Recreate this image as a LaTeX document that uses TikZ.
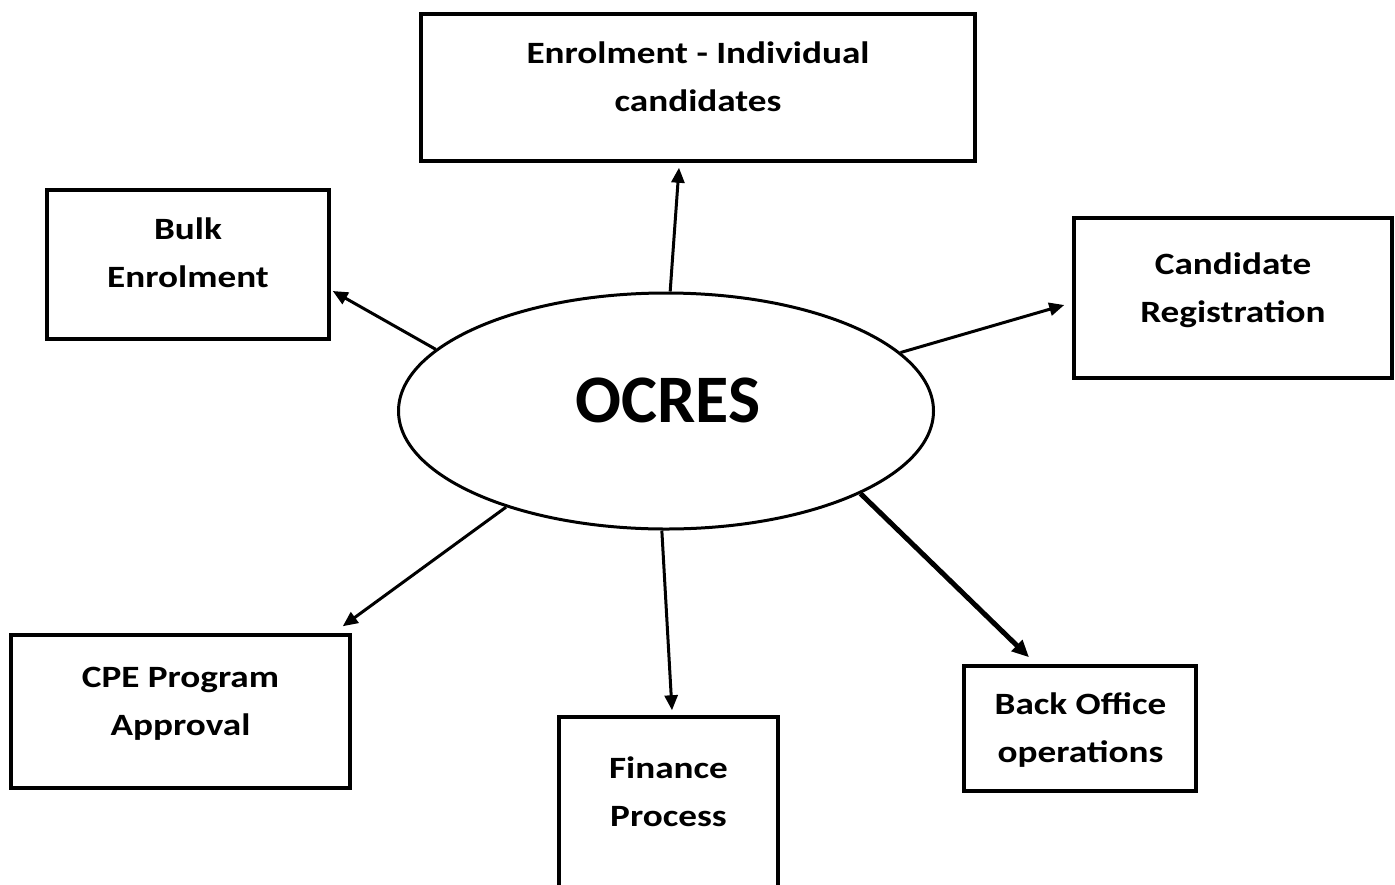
\documentclass[tikz,border=0pt]{standalone}
\usepackage{fontspec}
\setmainfont{Carlito}
\newfontfamily\boxfont[FakeStretch=1.2]{Carlito}
\usetikzlibrary{arrows.meta,shapes.geometric}
\begin{document}
\begin{tikzpicture}[x=1pt,y=-1pt,
  box/.style={draw, line width=3.5pt, rectangle, inner sep=0pt},
  lbl/.style={font=\boxfont\bfseries\fontsize{31}{48}\selectfont, align=center, inner sep=0pt},
  conn/.style={line width=3pt, -{Triangle[length=15pt,width=13pt]}},
  thickconn/.style={line width=5pt, -{Triangle[length=17pt,width=15pt]}}
]
\useasboundingbox (0,0) rectangle (1395,884);
\clip (0,0) rectangle (1395,884);
% boxes
\node[box, minimum width=554pt, minimum height=147pt] (enrol) at (698,87.5) {};
\node[box, minimum width=282pt, minimum height=149pt] (bulk) at (188,264.5) {};
\node[box, minimum width=318pt, minimum height=160pt] (cand) at (1233,298) {};
\node[box, minimum width=339pt, minimum height=153pt] (cpe) at (180.5,711.5) {};
\node[box, minimum width=219pt, minimum height=190pt] (fin) at (668.5,812) {};
\node[box, minimum width=232pt, minimum height=125pt] (back) at (1080,728.5) {};
% labels
\node[lbl] (enrolT) at (698,76.5) {Enrolment - Individual\\candidates};
\node[lbl] (bulkT) at (188,253) {Bulk\\Enrolment};
\node[lbl] (candT) at (1233,290) {Candidate\\Registration};
\node[lbl] (cpeT) at (180.5,704) {CPE Program\\Approval};
\node[lbl] (finT) at (668.5,792) {Finance\\Process};
\node[lbl] (backT) at (1080.5,730) {Back Office\\operations};
% ellipse
\node[draw, ellipse, line width=3pt, minimum width=535pt, minimum height=236pt, inner sep=0pt] (oc) at (666,411) {};
\node[font=\bfseries\fontsize{68}{80}\selectfont, inner sep=0pt] (octxt) at (668,400) {OCRES};
% connectors
\draw[conn] (oc.88) -- ([xshift=-19pt,yshift=-5pt]enrol.south);
\draw[conn] (oc.165.3) -- ([xshift=2pt,yshift=-26.5pt]bulk.east);
\draw[conn] (oc.14.7) -- ([xshift=-8pt,yshift=-7pt]cand.west);
\draw[conn] (oc.211.5) -- ([xshift=-9pt,yshift=7pt]cpe.north east);
\draw[conn] (oc.268) -- ([xshift=3.5pt,yshift=5pt]fin.north);
\draw[thickconn] (oc.337.9) -- ([xshift=-51pt,yshift=7pt]back.north);
\end{tikzpicture}
\end{document}
